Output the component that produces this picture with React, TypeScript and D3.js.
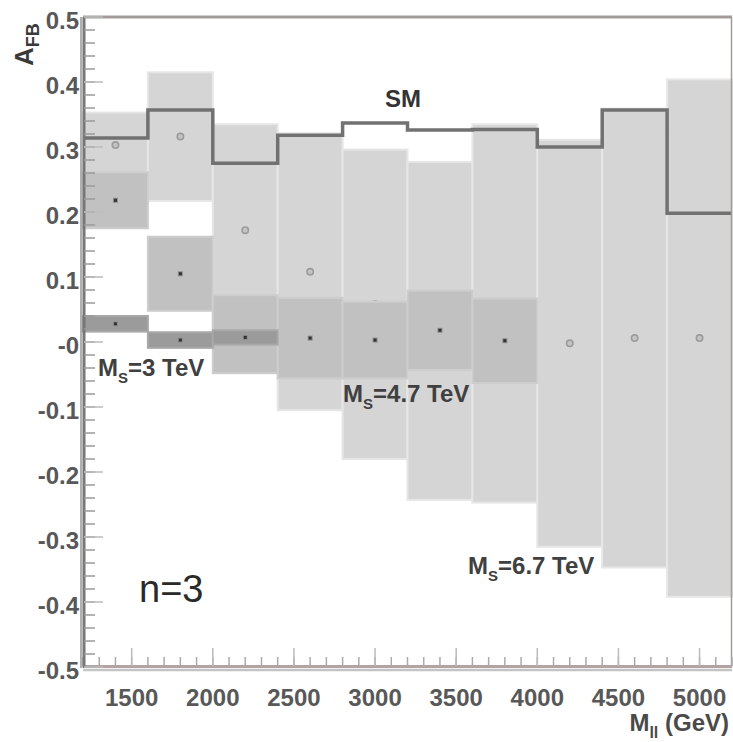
import React from 'react';
import * as d3 from 'd3';

// dilepton mass bins (GeV)
const massBins = [1200, 1600, 2000, 2400, 2800, 3200, 3600, 4000, 4400, 4800, 5200];

// Standard Model A_FB per bin
const smAfb = [0.314, 0.357, 0.275, 0.318, 0.337, 0.326, 0.327, 0.300, 0.357, 0.198];

// M_S = 6.7 TeV
const ms67Afb = [0.303, 0.316, 0.172, 0.108, 0.058, 0.017, 0.044, -0.002, 0.006, 0.006];
const ms67Err = [0.050, 0.099, 0.163, 0.213, 0.238, 0.260, 0.291, 0.313, 0.353, 0.398];

// M_S = 4.7 TeV
const ms47Afb = [0.218, 0.105, 0.012, 0.006, 0.003, 0.018, 0.002];
const ms47Err = [0.043, 0.057, 0.060, 0.062, 0.059, 0.061, 0.065];

// M_S = 3 TeV
const ms3Afb = [0.028, 0.003, 0.007];
const ms3Err = [0.012, 0.012, 0.011];

const xTicks = [1500, 2000, 2500, 3000, 3500, 4000, 4500, 5000];
const xTickLabels = ['1500', '2000', '2500', '3000', '3500', '4000', '4500', '5000'];
const yTicks = [-0.5, -0.4, -0.3, -0.2, -0.1, 0, 0.1, 0.2, 0.3, 0.4, 0.5];
const yTickLabels = ['-0.5', '-0.4', '-0.3', '-0.2', '-0.1', '-0', '0.1', '0.2', '0.3', '0.4', '0.5'];

const font = '"Liberation Sans", Arial, Helvetica, sans-serif';

const App = () => {
  const width = 733;
  const height = 742;

  const x = d3.scaleLinear().domain([1200, 5200]).range([83, 732]);
  const y = d3.scaleLinear().domain([-0.5, 0.5]).range([667, 17]);

  const xMinor = d3.range(1200, 5201, 100);
  const yMinor = d3.range(-25, 26).map(i => i * 0.02);

  // one box per bin: center +- error
  const boxes = (vals, errs, fill, stroke, key) =>
    vals.map((v, i) => (
      <rect
        key={key + i}
        x={x(massBins[i])}
        y={y(v + errs[i])}
        width={x(massBins[i + 1]) - x(massBins[i])}
        height={y(v - errs[i]) - y(v + errs[i])}
        fill={fill}
        stroke={stroke}
        strokeWidth={2}
      />
    ));

  const center = i => x((massBins[i] + massBins[i + 1]) / 2);

  const squares = (vals, key) =>
    vals.map((v, i) => (
      <g key={key + i}>
        <rect x={center(i) - 2.5} y={y(v) - 2.5} width={5} height={5} fill="#8c8c8c" />
        <rect x={center(i) - 1.5} y={y(v) - 1.5} width={3} height={3} fill="#333" />
      </g>
    ));

  const smPoints = smAfb.map((v, i) => [massBins[i], v]).concat([[5200, smAfb[smAfb.length - 1]]]);
  const smLine = d3.line()
    .x(d => x(d[0]))
    .y(d => y(d[1]))
    .curve(d3.curveStepAfter)(smPoints);

  return (
    <svg width={width} height={height} style={{ position: 'absolute', left: 0, top: 0, background: '#fff' }}
      fontFamily={font}>
      {/* M_S = 6.7 TeV */}
      {boxes(ms67Afb, ms67Err, '#d5d5d5', '#e6e6e6', 'l')}
      {ms67Afb.map((v, i) => (
        <circle key={'c' + i} cx={center(i)} cy={y(v)} r={3.2} fill="#c4c4c4" stroke="#9c9c9c" strokeWidth={1.6} />
      ))}

      {/* M_S = 4.7 TeV */}
      {boxes(ms47Afb, ms47Err, '#c1c1c1', '#cdcdcd', 'm')}
      {squares(ms47Afb, 'ms')}

      {/* M_S = 3 TeV */}
      {boxes(ms3Afb, ms3Err, '#9b9b9b', '#a8a8a8', 'd')}
      {squares(ms3Afb, 'ds')}

      {/* SM */}
      <path d={smLine} fill="none" stroke="#717171" strokeWidth={3.5} />

      {/* frame */}
      <line x1={83} x2={732} y1={17} y2={17} stroke="#a39b99" strokeWidth={3} />
      <line x1={731.5} x2={731.5} y1={17} y2={667} stroke="#a39b99" strokeWidth={1.5} />
      <line x1={83} x2={732} y1={666.5} y2={666.5} stroke="#b3a3a3" strokeWidth={3} />
      <line x1={83} x2={732} y1={670} y2={670} stroke="#c4c4c4" strokeWidth={2.5} />

      {/* x ticks */}
      {xMinor.map(t => (
        <line key={'xm' + t} x1={x(t)} x2={x(t)} y1={666} y2={657} stroke="#aaa" strokeWidth={1.5} />
      ))}
      {xTicks.map(t => (
        <line key={'xM' + t} x1={x(t)} x2={x(t)} y1={666} y2={648} stroke="#bbb" strokeWidth={1.5} />
      ))}
      {xTicks.map((t, i) => (
        <text key={'xl' + t} x={x(t)} y={706} textAnchor="middle" fontSize={24} fontWeight="bold" fill="#585858">
          {xTickLabels[i]}
        </text>
      ))}

      {/* y axis */}
      <line x1={81} x2={81} y1={17} y2={668} stroke="#b0b0b0" strokeWidth={2} />
      <line x1={84} x2={84} y1={17} y2={668} stroke="#777" strokeWidth={3} />
      {yMinor.map((t, i) => (
        <line key={'ym' + i} x1={84} x2={95} y1={y(t)} y2={y(t)} stroke="#9a9a9a" strokeWidth={1.5} />
      ))}
      {yTicks.map(t => (
        <line key={'yM' + t} x1={84} x2={103} y1={y(t)} y2={y(t)} stroke="#bbb" strokeWidth={1.5} />
      ))}
      {yTicks.map((t, i) => (
        <text key={'yl' + t} x={79} y={y(t) + 12} textAnchor="end" fontSize={24} fontWeight="bold" fill="#585858">
          {yTickLabels[i]}
        </text>
      ))}

      {/* axis titles */}
      <text x={729} y={731} textAnchor="end" fontSize={24} fontWeight="bold" fill="#4a4a4a">
        M<tspan fontSize={16} dy={7}>ll</tspan><tspan dy={-7}> (GeV)</tspan>
      </text>
      <text transform="translate(33,66) rotate(-90)" fontSize={26} fontWeight="bold" fill="#3a3a3a">
        A<tspan fontSize={18} dy={6}>FB</tspan>
      </text>

      {/* annotations */}
      <text x={385} y={107} fontSize={24} fontWeight="bold" fill="#333">SM</text>
      <text x={98} y={376} fontSize={24} fontWeight="bold" fill="#404040">
        M<tspan fontSize={15} dy={7}>S</tspan><tspan dy={-7}>=3 TeV</tspan>
      </text>
      <text x={343} y={402} fontSize={24} fontWeight="bold" fill="#404040">
        M<tspan fontSize={15} dy={7}>S</tspan><tspan dy={-7}>=4.7 TeV</tspan>
      </text>
      <text x={468} y={574} fontSize={24} fontWeight="bold" fill="#404040">
        M<tspan fontSize={15} dy={7}>S</tspan><tspan dy={-7}>=6.7 TeV</tspan>
      </text>
      <text x={139} y={602} fontSize={38} fill="#2a2a2a">n=3</text>
    </svg>
  );
};

export default App;
